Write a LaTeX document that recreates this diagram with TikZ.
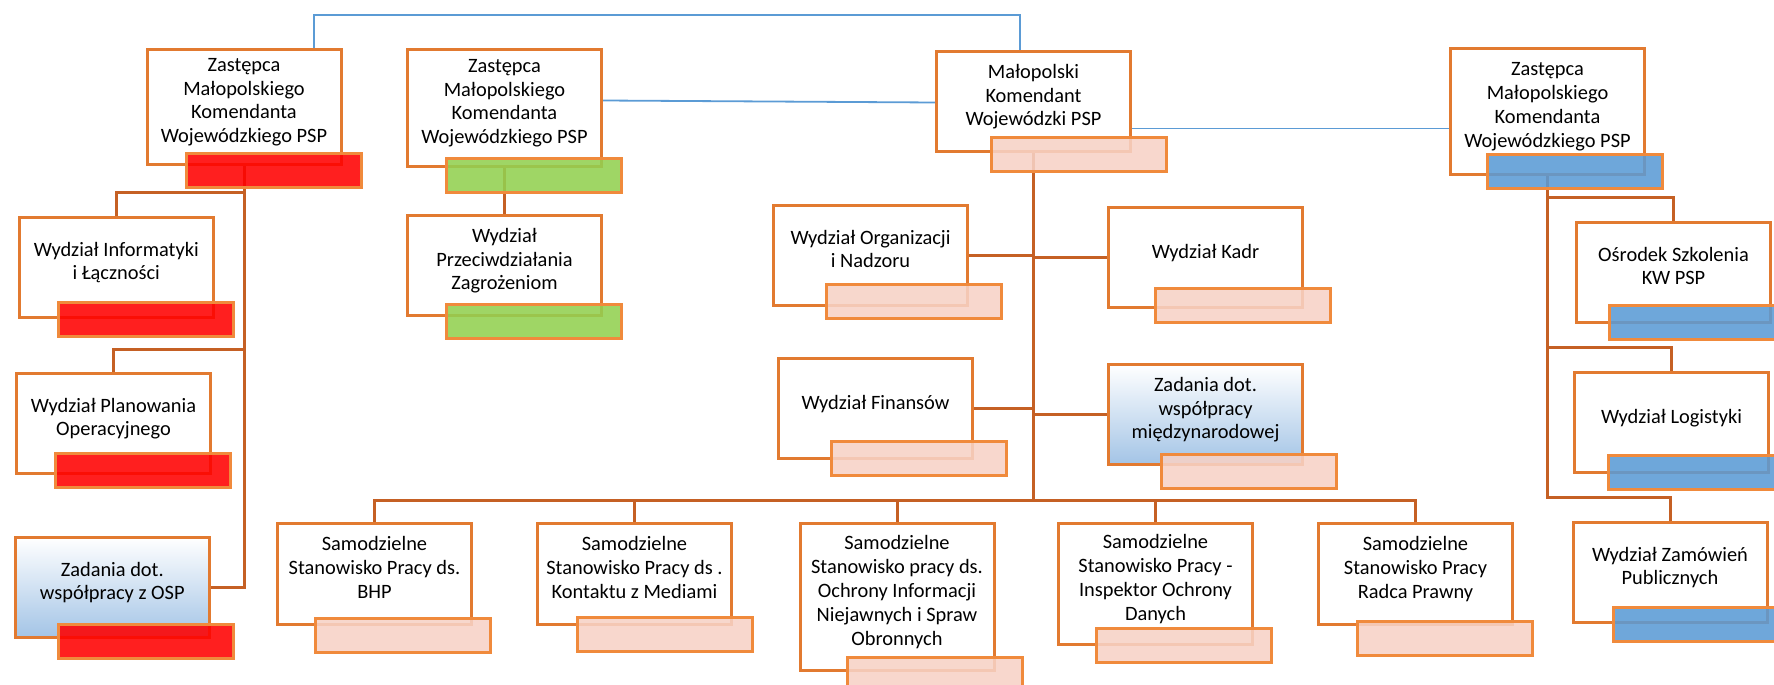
\documentclass[tikz,border=0pt]{standalone}
\usepackage{fontspec}
\setmainfont{Carlito}
\usetikzlibrary{calc, backgrounds}
\definecolor{boxline}{RGB}{226,122,48}
\definecolor{barline}{RGB}{240,138,60}
\definecolor{linkline}{RGB}{197,96,36}
\definecolor{chiefblue}{RGB}{91,155,213}
\definecolor{barred}{RGB}{255,0,0}
\definecolor{bargreen}{RGB}{146,208,80}
\definecolor{barblue}{RGB}{91,155,213}
\definecolor{barpink}{RGB}{247,210,198}
\definecolor{taskblue}{RGB}{163,196,230}

\begin{document}
\begin{tikzpicture}[
  x=0.5pt, y=-0.5pt,
  unit/.style={draw=boxline, fill=white, line width=1.5pt, anchor=north west,
               minimum width=97pt, minimum height=50pt, inner sep=2pt,
               align=center, text depth=6.5pt,
               font=\fontsize{10.2}{11.9}\selectfont},
  task/.style={unit, top color=white, bottom color=taskblue},
  bar/.style={draw=barline, line width=1.5pt, fill opacity=0.88,
              minimum width=87.5pt, minimum height=17pt, anchor=north west, inner sep=0pt},
  redbar/.style={bar, fill=barred},
  greenbar/.style={bar, fill=bargreen},
  bluebar/.style={bar, fill=barblue},
  pinkbar/.style={bar, fill=barpink},
  link/.style={draw=linkline, line width=1.5pt},
  chief/.style={draw=chiefblue, line width=0.9pt},
]
  \useasboundingbox (0,0) rectangle (1774,685);

  % top row
  \node[unit, minimum height=57.5pt] (z1) at (145.5,48) {Zastępca\\Małopolskiego\\Komendanta\\Wojewódzkiego PSP};
  \node[unit, minimum height=58.5pt] (z2) at (406,48) {Zastępca\\Małopolskiego\\Komendanta\\Wojewódzkiego PSP};
  \node[unit] (kom) at (935,50) {Małopolski\\Komendant\\Wojewódzki PSP};
  \node[unit, minimum height=63pt] (z3) at (1449,47) {Zastępca\\Małopolskiego\\Komendanta\\Wojewódzkiego PSP};

  % left column
  \node[unit] (inf) at (17.8,216) {Wydział Informatyki\\i Łączności};
  \node[unit] (plan) at (15,372) {Wydział Planowania\\Operacyjnego};
  \node[task] (osp) at (13.8,536) {Zadania dot.\\współpracy z OSP};
  \node[unit] (przec) at (406,214) {Wydział\\Przeciwdziałania\\Zagrożeniom};

  % middle
  \node[unit] (org) at (772,204) {Wydział Organizacji\\i Nadzoru};
  \node[unit] (kadr) at (1107,206) {Wydział Kadr};
  \node[unit] (fin) at (777,357) {Wydział Finansów};
  \node[task] (miedz) at (1107,363) {Zadania dot.\\współpracy\\międzynarodowej};

  % right column
  \node[unit] (osr) at (1575,221) {Ośrodek Szkolenia\\KW PSP};
  \node[unit] (log) at (1573,371) {Wydział Logistyki};
  \node[unit] (zam) at (1571.5,521) {Wydział Zamówień\\Publicznych};

  % bottom row
  \node[unit, minimum height=50.5pt] (bhp) at (276,522) {Samodzielne\\Stanowisko Pracy ds.\\BHP};
  \node[unit, minimum height=50.5pt] (med) at (536,522) {Samodzielne\\Stanowisko Pracy ds .\\Kontaktu z Mediami};
  \node[unit, minimum height=73.5pt] (ochr) at (798.5,522) {Samodzielne\\Stanowisko pracy ds.\\Ochrony Informacji\\Niejawnych i Spraw\\Obronnych};
  \node[unit, minimum height=60.5pt] (insp) at (1057,522) {Samodzielne\\Stanowisko Pracy -\\Inspektor Ochrony\\Danych};
  \node[unit, minimum height=50.5pt] (radca) at (1317,522) {Samodzielne\\Stanowisko Pracy\\Radca Prawny};

  % colour bars
  \node[redbar] (z1bar) at ($(z1.south west)+(39,-14)$) {};
  \node[redbar] (infbar) at ($(inf.south west)+(39,-18)$) {};
  \node[redbar] (planbar) at ($(plan.south west)+(39,-23)$) {};
  \node[redbar] (ospbar) at ($(osp.south west)+(43,-16)$) {};
  \node[greenbar] (z2bar) at ($(z2.south west)+(39,-11)$) {};
  \node[greenbar] (przecbar) at ($(przec.south west)+(39,-14)$) {};
  \node[pinkbar] (kombar) at ($(kom.south west)+(55,-17)$) {};
  \node[pinkbar] (orgbar) at ($(org.south west)+(53,-24)$) {};
  \node[pinkbar] (kadrbar) at ($(kadr.south west)+(47,-22)$) {};
  \node[pinkbar] (finbar) at ($(fin.south west)+(53,-20)$) {};
  \node[pinkbar] (miedzbar) at ($(miedz.south west)+(53,-13)$) {};
  \node[bluebar] (z3bar) at ($(z3.south west)+(37,-23)$) {};
  \node[bluebar] (osrbar) at ($(osr.south west)+(33,-20)$) {};
  \node[bluebar] (logbar) at ($(log.south west)+(34,-20)$) {};
  \node[bluebar] (zambar) at ($(zam.south west)+(40,-18)$) {};
  \node[pinkbar] (bhpbar) at ($(bhp.south west)+(38,-9)$) {};
  \node[pinkbar] (medbar) at ($(med.south west)+(40,-10)$) {};
  \node[pinkbar] (ochrbar) at ($(ochr.south west)+(47,-16)$) {};
  \node[pinkbar] (inspbar) at ($(insp.south west)+(38,-19)$) {};
  \node[pinkbar] (radcabar) at ($(radca.south west)+(39,-6)$) {};

  \begin{scope}[on background layer]
    % deputies to the chief
    \draw[chief] ([xshift=35pt]z1.north) -- ++(0,-33) -| ([xshift=-6.75pt]kom.north);
    \draw[chief] ([yshift=3.75pt]z2.east) -- ([yshift=-0.5pt]kom.west);
    \draw[chief] ([yshift=-13.5pt]kom.east) -- ([yshift=-8.5pt]z3.west);

    % left branch
    \draw[link] (z1.south) |- ([yshift=12pt]inf.north) -- (inf.north);
    \draw[link] (z1.south) |- ([yshift=11.5pt]plan.north) -- (plan.north);
    \draw[link] (z1.south) |- (osp.east);
    \draw[link] (z2.south) -- (przec.north);

    % chief branch
    \draw[link] (kom.south) |- (org.east);
    \draw[link] (kom.south) |- (kadr.west);
    \draw[link] (kom.south) |- (fin.east);
    \draw[link] (kom.south) |- (miedz.west);
    \foreach \post in {bhp, med, ochr, insp, radca}
      \draw[link] (kom.south) |- ([yshift=11pt]\post.north) -- (\post.north);

    % right branch
    \foreach \post in {osr, log, zam}
      \draw[link] (z3.south) |- ([yshift=12pt]\post.north) -- (\post.north);
  \end{scope}
\end{tikzpicture}
\end{document}
